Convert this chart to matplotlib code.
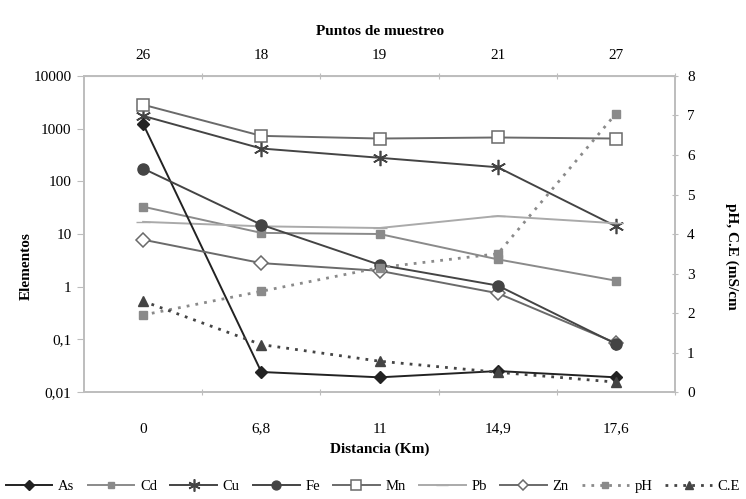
import numpy as np
import matplotlib
matplotlib.use("Agg")
import matplotlib.pyplot as plt

plt.rcParams['font.family'] = ['Liberation Serif', 'DejaVu Serif']

distancia = ["0", "6,8", "11", "14,9", "17,6"]
puntos = ["26", "18", "19", "21", "27"]

# elementos (eje izquierdo, log)
As = [1230, 0.024, 0.019, 0.025, 0.019]
Cd = [33, 10.5, 10, 3.3, 1.3]
Cu = [1750, 420, 280, 185, 14]
Fe = [175, 15, 2.6, 1.05, 0.082]
Mn = [2850, 730, 650, 680, 650]
Pb = [17, 14, 13, 22, 16]
Zn = [7.8, 2.8, 2.0, 0.75, 0.085]

# eje derecho
pH = [1.95, 2.55, 3.15, 3.5, 7.05]
CE = [2.3, 1.2, 0.78, 0.5, 0.25]

ytick_vals = [0.01, 0.1, 1, 10, 100, 1000, 10000]
ytick_labels = ["0,01", "0,1", "1", "10", "100", "1000", "10000"]

x = np.arange(len(distancia))
spine_c = "#bdbdbd"

fig = plt.figure(figsize=(7.46, 4.99), dpi=100)
ax = fig.add_axes([0.1126, 0.2144, 0.7924, 0.6333])
ax2 = ax.twinx()

lw = 1.4
h = []
h += ax.plot(x, As, color="#222222", lw=lw, marker="D", ms=6, label="As", zorder=3)
h += ax.plot(x, Cd, color="#8a8a8a", lw=lw, marker="s", ms=6, label="Cd", zorder=2)
h += ax.plot(x, Cu, color="#444444", lw=lw, marker=(6, 2, 0), ms=11, mew=1.2, label="Cu", zorder=2)
h += ax.plot(x, Fe, color="#444444", lw=lw, marker="o", ms=8, label="Fe", zorder=4)
h += ax.plot(x, Mn, color="#6a6a6a", lw=lw, marker="s", ms=9, mfc="white", mew=1.1, label="Mn", zorder=2)
h += ax.plot(x, Pb, color="#aaaaaa", lw=lw, marker="_", ms=10, label="Pb", zorder=2)
h += ax.plot(x, Zn, color="#6a6a6a", lw=lw, marker="D", ms=7, mfc="white", mew=1.1, label="Zn", zorder=3)
h += ax2.plot(x, pH, color="#8a8a8a", lw=2, ls=(0, (1, 2.2)), marker="s", ms=6, label="pH")
h += ax2.plot(x, CE, color="#444444", lw=2, ls=(0, (1, 2.2)), marker="^", ms=7, label="C.E")

ax.set_yscale("log")
ax.set_ylim(0.01, 10000)
ax.set_yticks(ytick_vals)
ax.set_yticklabels(ytick_labels)
ax.yaxis.set_minor_locator(matplotlib.ticker.NullLocator())
ax2.set_ylim(0, 8)
ax2.set_yticks(range(0, 9))

ax.set_xlim(-0.5, len(x) - 0.5)
ax.set_xticks(x + 0.5)
ax.set_xticklabels([])
ax.set_xticks(x, minor=True)
ax.set_xticklabels(distancia, minor=True)
ax.tick_params(axis="x", which="minor", length=0, pad=22, labelsize=11)
ax.tick_params(axis="x", which="major", length=5, color=spine_c, direction="inout")

top = ax.secondary_xaxis("top")
top.set_xticks(x + 0.5)
top.set_xticklabels([])
top.set_xticks(x, minor=True)
top.set_xticklabels(puntos, minor=True)
top.tick_params(axis="x", which="minor", length=0, pad=10, labelsize=11)
top.tick_params(axis="x", which="major", length=5, color=spine_c, direction="inout")
top.spines["top"].set_color(spine_c)
top.set_xlabel("Puntos de muestreo", fontsize=11, fontweight="bold", labelpad=10)

for a in (ax, ax2):
    for s in a.spines.values():
        s.set_color(spine_c)
        s.set_linewidth(1.2)
ax.tick_params(axis="y", length=5, color=spine_c, labelsize=11, pad=4)
ax2.tick_params(axis="y", length=5, color=spine_c, labelsize=11, direction="inout", pad=6)

ax.set_xlabel("Distancia (Km)", fontsize=11, fontweight="bold", labelpad=5)
ax.set_ylabel("Elementos", fontsize=11, fontweight="bold")
ax.yaxis.set_label_coords(-0.086, 0.40)
ax2.set_ylabel("pH, C.E (mS/cm", fontsize=11, fontweight="bold", rotation=270, va="center")
ax2.yaxis.set_label_coords(1.096, 0.43)

fig.legend(handles=h, loc="lower center", bbox_to_anchor=(0.5, -0.014), ncol=9,
           frameon=False, fontsize=10.5, handlelength=3.2, numpoints=1,
           columnspacing=0.9, handletextpad=0.4, markerscale=0.8)

fig.savefig("out.png", dpi=100)
